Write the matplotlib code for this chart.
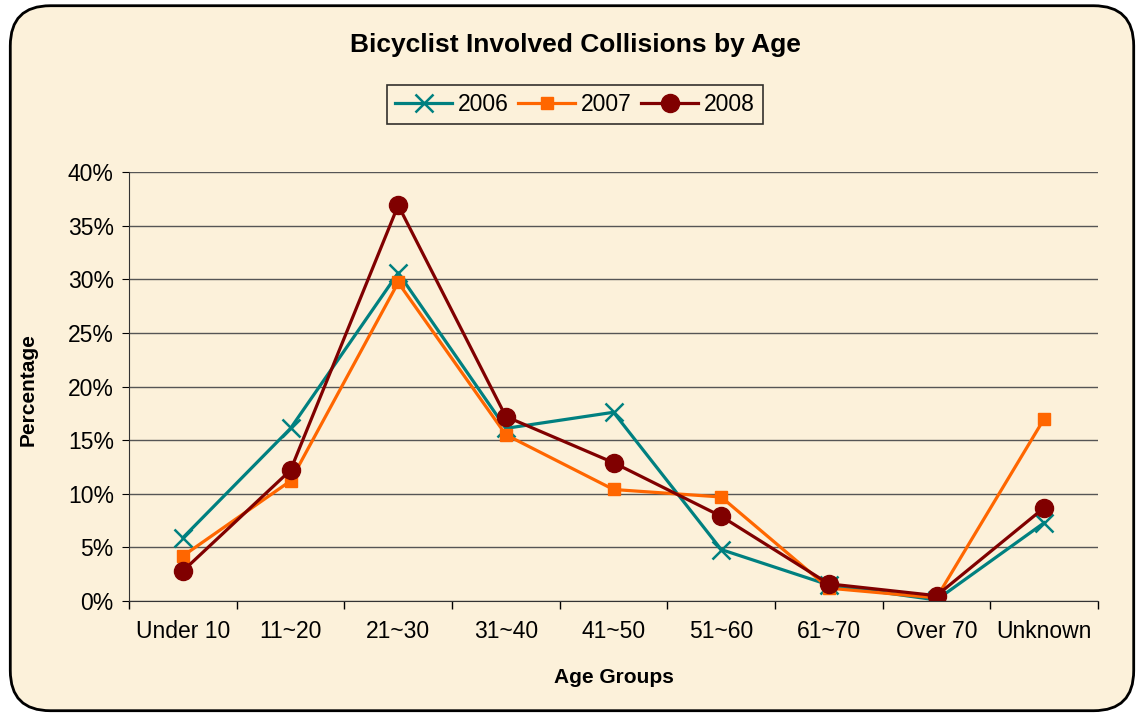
import numpy as np
import matplotlib.pyplot as plt
from matplotlib.patches import FancyBboxPatch
from matplotlib.ticker import PercentFormatter

plt.rcParams['font.family'] = ['Liberation Sans', 'DejaVu Sans']

# datos (porcentaje)
grupos = ['Under 10', '11~20', '21~30', '31~40', '41~50', '51~60', '61~70', 'Over 70', 'Unknown']
y2006 = [5.9, 16.1, 30.6, 16.1, 17.6, 4.8, 1.5, 0.1, 7.3]
y2007 = [4.2, 11.2, 29.7, 15.5, 10.4, 9.7, 1.2, 0.3, 17.0]
y2008 = [2.8, 12.2, 36.9, 17.2, 12.9, 7.9, 1.6, 0.5, 8.7]

fondo = '#FCF1DA'
fig = plt.figure(figsize=(11.44, 7.15), dpi=100, facecolor='white')

# marco redondeado
marco = FancyBboxPatch((0.009, 0.006), 0.982, 0.986, boxstyle='round,pad=0,rounding_size=0.035',
                       transform=fig.transFigure, facecolor=fondo, edgecolor='black', linewidth=2,
                       mutation_aspect=1144 / 715, zorder=-5)
fig.patches.append(marco)

ax = fig.add_axes([0.1128, 0.1594, 0.847, 0.6])
ax.set_facecolor('none')

x = np.arange(len(grupos))
ax.plot(x, y2006, color='#008080', lw=2.3, marker='x', ms=13, mew=1.8, label='2006')
ax.plot(x, y2007, color='#FF6600', lw=2.3, marker='s', ms=9, label='2007')
ax.plot(x, y2008, color='#800000', lw=2.3, marker='o', ms=13, label='2008')

ax.set_xlim(-0.5, len(grupos) - 0.5)
ax.set_ylim(0, 40)
ax.set_yticks(np.arange(0, 41, 5))
ax.yaxis.set_major_formatter(PercentFormatter(decimals=0))
ax.set_xticks(x)
ax.set_xticklabels(grupos)
ax.set_xticks(np.arange(-0.5, len(grupos), 1), minor=True)
ax.tick_params(axis='x', which='major', length=0, pad=14, labelsize=16.5)
ax.tick_params(axis='x', which='minor', length=6, direction='out', width=1)
ax.tick_params(axis='y', length=5, direction='out', pad=6, labelsize=16.5)

ax.grid(axis='y', color='#555555', lw=1)
ax.set_axisbelow(True)
for lado in ['top', 'right']:
    ax.spines[lado].set_visible(False)
ax.spines['left'].set_color('#333333')
ax.spines['bottom'].set_color('#333333')

fig.text(0.503, 0.937, 'Bicyclist Involved Collisions by Age', ha='center', va='center',
         fontsize=19, fontweight='bold')
fig.text(0.025, 0.455, 'Percentage', ha='center', va='center', rotation=90,
         fontsize=15, fontweight='bold')
fig.text(0.537, 0.053, 'Age Groups', ha='center', va='center', fontsize=15, fontweight='bold')

leg = fig.legend(loc='center', bbox_to_anchor=(0.5026, 0.854), ncol=3, fontsize=16.5,
                 frameon=True, fancybox=False, edgecolor='black', facecolor=fondo,
                 handlelength=2.5, columnspacing=0.4, handletextpad=0.25, borderpad=0.35,
                 borderaxespad=0)
leg.get_frame().set_linewidth(1.2)

fig.savefig('out.png', dpi=100, facecolor='white')
